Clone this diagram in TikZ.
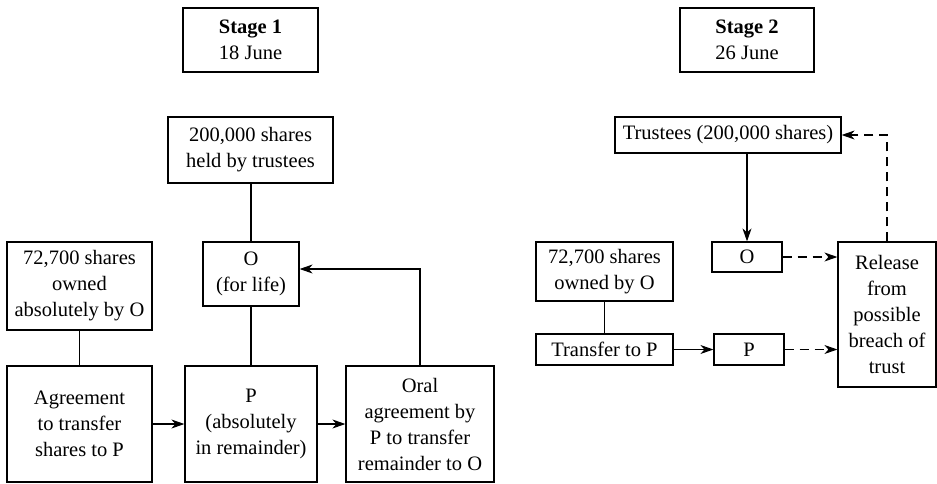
\documentclass[tikz,border=0pt]{standalone}
\usepackage{fontspec}
\setmainfont{Liberation Serif}
\usetikzlibrary{arrows.meta}

\tikzset{
  box/.style={draw, line width=1.2pt, rectangle, inner sep=0pt, align=center,
              font=\fontsize{20.5}{26}\selectfont},
  link/.style={line width=1.1pt},
  arr/.style={link, -{Stealth[length=13pt,width=9pt,inset=4pt]}},
  darr/.style={arr, dash pattern=on 9pt off 6pt},
}

\begin{document}
\begin{tikzpicture}[x=1pt,y=-1pt]
  \useasboundingbox (0,0) rectangle (937,483);

  % Stage 1 (18 June)
  \node[box, minimum width=135pt, minimum height=64pt] (st1) at (250.5,40)
       {\textbf{Stage 1}\\18 June};
  \node[box, minimum width=165pt, minimum height=66pt] (held) at (250.5,150)
       {200,000 shares\\held by trustees};
  \node[box, minimum width=96pt, minimum height=64pt] (ofl) at (251,274)
       {O\\(for life)};
  \node[box, minimum width=145pt, minimum height=88pt] (abs) at (79.5,286)
       {72,700 shares\\owned\\absolutely by O};
  \node[box, minimum width=145pt, minimum height=116pt] (agr) at (79.5,424)
       {Agreement\\to transfer\\shares to P};
  \node[box, minimum width=132pt, minimum height=116pt] (pab) at (251,424)
       {P\\(absolutely\\in remainder)};
  \node[box, minimum width=148pt, minimum height=116pt] (oral) at (420,424)
       {Oral\\agreement by\\P to transfer\\remainder to O};

  \draw[link] (ofl.north) -- (ofl.north |- held.south);
  \draw[link] (ofl.south) -- (ofl.south |- pab.north);
  \draw[link] (abs.south) -- (agr.north);
  \draw[arr] (agr.east) -- (pab.west);
  \draw[arr] (pab.east) -- (oral.west);
  \draw[arr] (oral.north) |- ([yshift=5pt]ofl.east);

  % Stage 2 (26 June)
  \node[box, minimum width=134pt, minimum height=64pt] (st2) at (747,40)
       {\textbf{Stage 2}\\26 June};
  \node[box, minimum width=226pt, minimum height=36pt] (trus) at (728,135)
       {Trustees (200,000 shares)};
  \node[box, minimum width=70pt, minimum height=30pt] (o2) at (747,257) {O};
  \node[box, minimum width=137pt, minimum height=59pt] (own) at (604.5,271.5)
       {72,700 shares\\owned by O};
  \node[box, minimum width=137pt, minimum height=31pt] (trf) at (604.5,349.5)
       {Transfer to P};
  \node[box, minimum width=70pt, minimum height=31pt] (p2) at (749,349.5) {P};
  \node[box, minimum width=98pt, minimum height=145pt] (rel) at (887,314.5)
       {Release\\from\\possible\\breach of\\trust};

  \draw[arr] (trus.south -| o2.north) -- (o2.north);
  \draw[link] (own.south) -- (trf.north);
  \draw[arr] (trf.east) -- (p2.west);
  \draw[darr] (o2.east) -- (o2.east -| rel.west);
  \draw[darr] (p2.east) -- (p2.east -| rel.west);
  \draw[darr] (rel.north) |- (trus.east);
\end{tikzpicture}
\end{document}
